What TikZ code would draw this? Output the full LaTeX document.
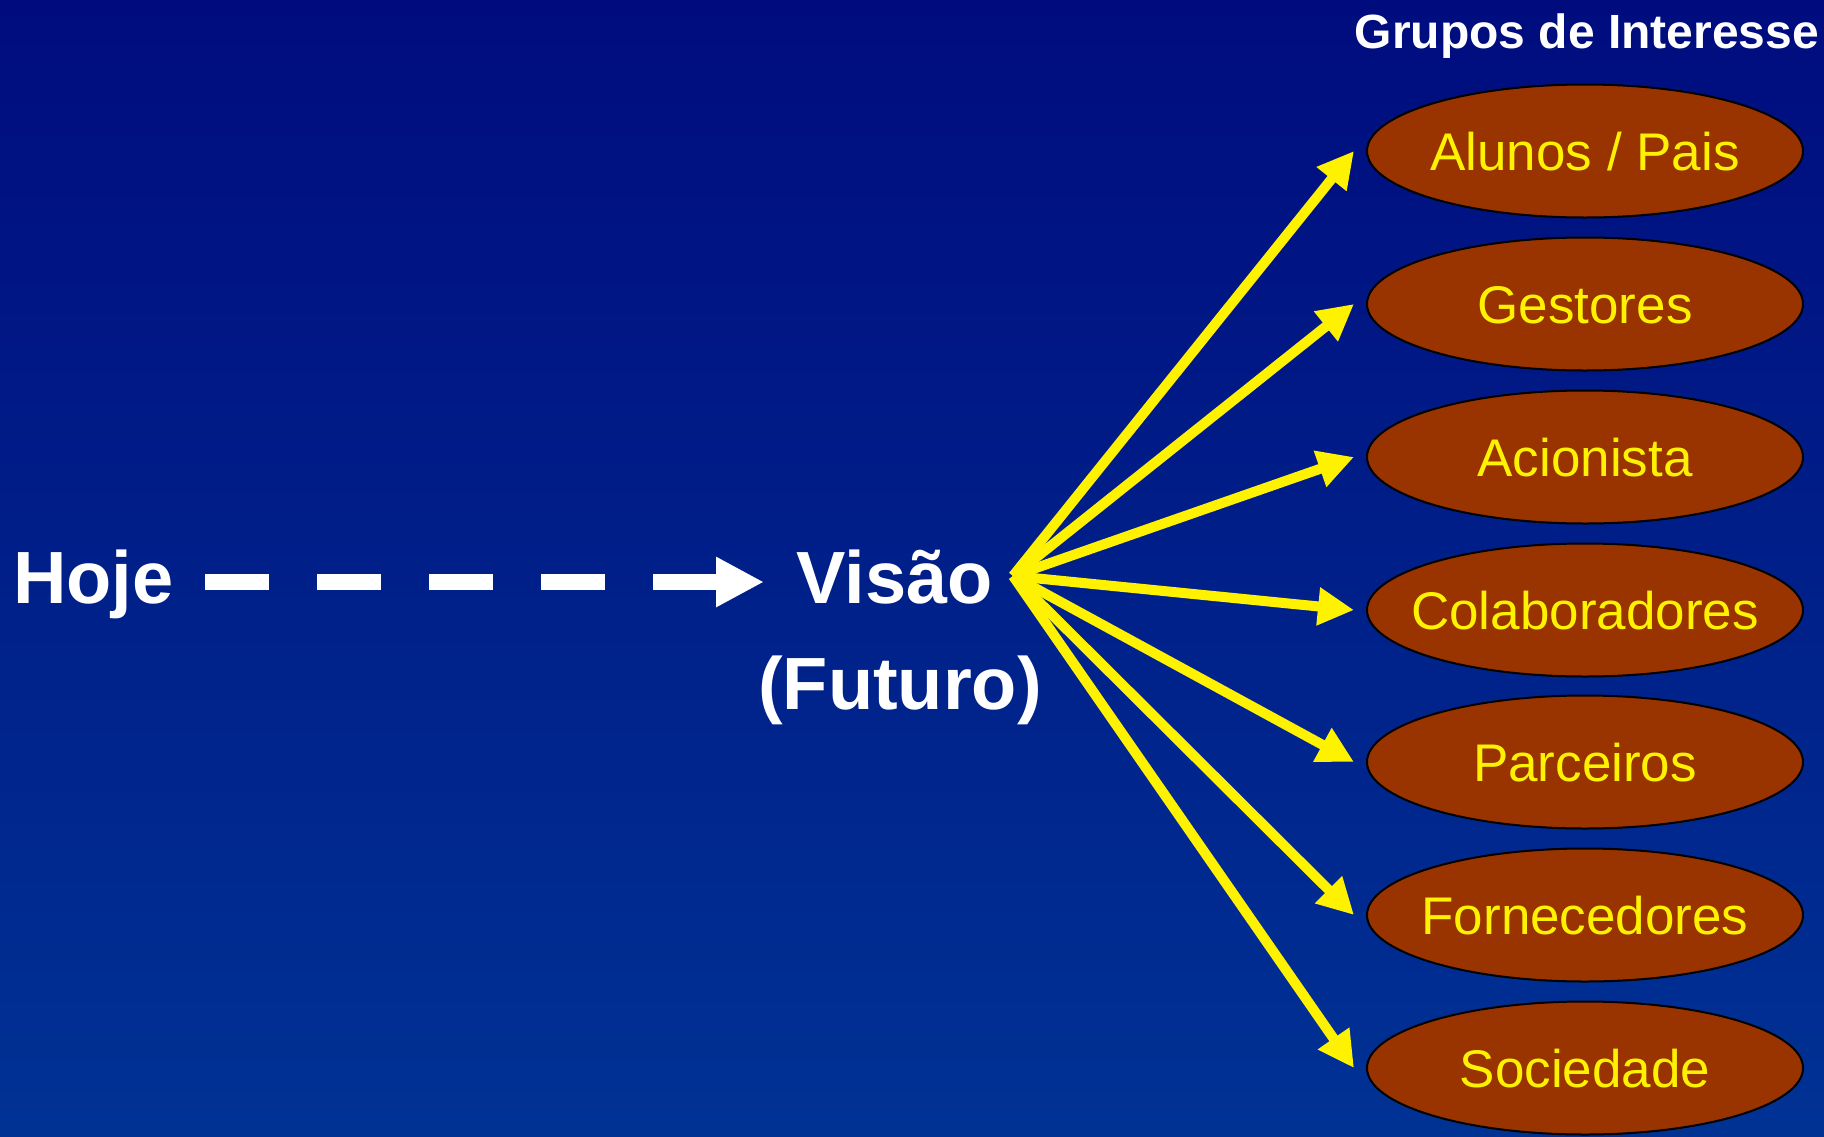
\documentclass[tikz,border=0pt]{standalone}
\usepackage{fontspec}
\setmainfont{Liberation Sans}
\usetikzlibrary{shapes.geometric,arrows.meta}
\definecolor{bgtop}{RGB}{0,12,126}
\definecolor{bgmid}{RGB}{0,40,140}
\definecolor{bgbot}{RGB}{0,50,148}
\definecolor{brownfill}{RGB}{153,51,0}
\newcommand{\ctext}[1]{\makebox[0pt]{#1}}
\begin{document}
\begin{tikzpicture}[x=1pt,y=-1pt,
  group/.style={ellipse, draw=black, line width=2pt, fill=brownfill,
    minimum width=436pt, minimum height=133pt, inner sep=0pt, text=yellow,
    font=\fontsize{53}{60}\selectfont, text height=38pt, text depth=0pt},
  big/.style={text=white, font=\bfseries\fontsize{74}{80}\selectfont, inner sep=0pt},
  yarrow/.style={draw=yellow, line width=10pt, -{Triangle[length=36pt,width=36pt]}},
  warrow/.style={draw=white, line width=16pt, dash pattern=on 64pt off 48pt,
    -{Triangle[length=48pt,width=47pt]}}]
\useasboundingbox (0,0) rectangle (1824,1136);
\shade[top color=bgtop, middle color=bgmid, bottom color=bgbot] (0,0) rectangle (1824,1136);

\node[anchor=base, text=white, inner sep=0pt, font=\bfseries\fontsize{48}{56}\selectfont] (title) at (1587,48) {Grupos de Interesse};

\node[group] (g1) at (1585,151) {\ctext{Alunos / Pais}};
\node[group] (g2) at (1585,304) {\ctext{Gestores}};
\node[group] (g3) at (1585,457) {\ctext{Acionista}};
\node[group] (g4) at (1585,610) {\ctext{Colaboradores}};
\node[group] (g5) at (1585,762) {\ctext{Parceiros}};
\node[group] (g6) at (1585,915) {\ctext{Fornecedores}};
\node[group] (g7) at (1585,1068) {\ctext{Sociedade}};

\node[big, anchor=base west] (hoje) at (13,603) {Hoje};
\node[big, anchor=base] (visao) at (895,603) {Visão};
\node[big, anchor=base] (futuro) at (900,709) {(Futuro)};

\coordinate (ds) at (205,582);
\coordinate (de) at (764,582);
\draw[warrow] (ds) -- (de);

\coordinate (hub) at (1013,576);
\foreach \g in {g1,g2,g3,g4,g5,g6,g7}
  \draw[yarrow] (hub) -- ([xshift=-12pt]\g.west);
\end{tikzpicture}
\end{document}
